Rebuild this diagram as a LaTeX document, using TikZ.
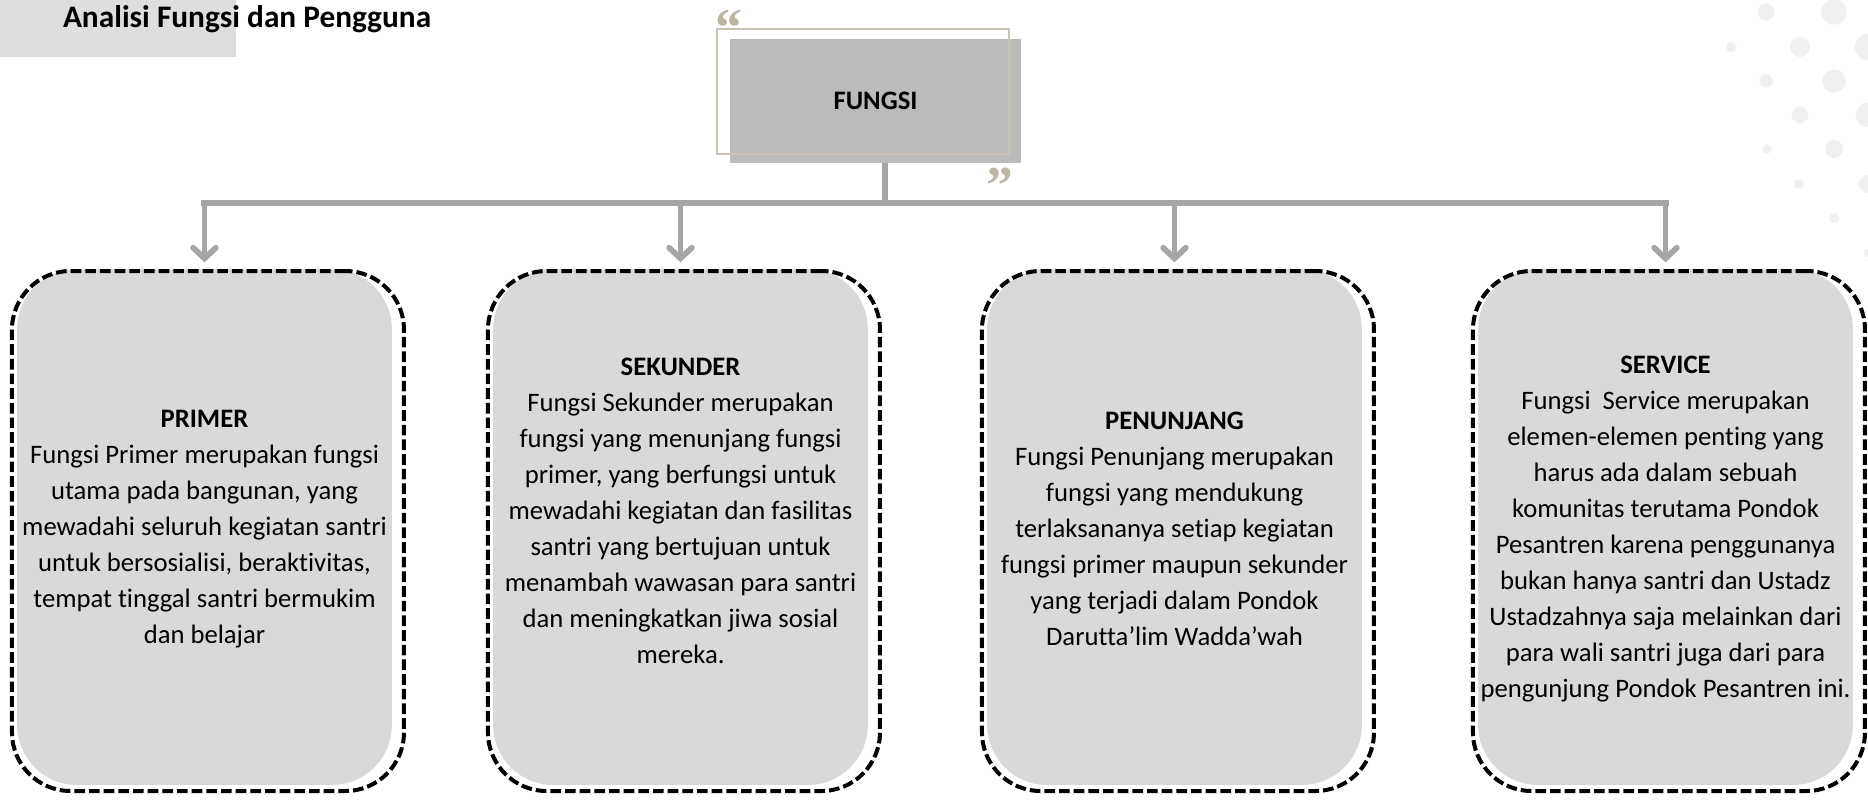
\documentclass[tikz,border=0pt]{standalone}
\usepackage{fontspec}
\setmainfont{Carlito}[Ligatures=NoCommon]
\newfontfamily\quotefont{Liberation Serif}
\usetikzlibrary{arrows.meta}

\definecolor{linegray}{HTML}{A6A6A6}
\definecolor{boxgray}{HTML}{BBBBBB}
\definecolor{cardgray}{HTML}{D9D9D9}
\definecolor{titlegray}{HTML}{DEDEDE}
\definecolor{framebeige}{HTML}{CAC2B2}
\definecolor{quotebeige}{HTML}{BDB5A3}
\definecolor{dotgray}{HTML}{F0F0F0}

\begin{document}
\begin{tikzpicture}[
  x=0.75pt, y=-0.75pt, % 1 unit = 1 px of the slide
  every node/.style={inner sep=0pt, outer sep=0pt},
  card/.style={fill=cardgray, rounded corners=45pt, minimum width=281pt, minimum height=387pt},
  cardline/.style={draw=black, line width=3pt, dash pattern=on 8pt off 3pt, rounded corners=44pt, minimum width=294pt, minimum height=390pt},
  cardtext/.style={align=center, font=\fontsize{20}{27}\selectfont},
  bus/.style={draw=linegray, line width=5pt, line cap=rect},
  link/.style={draw=linegray, line width=4.3pt, -{Straight Barb[length=8pt,width=17pt,line cap=round]}, shorten >=5pt},
  quote/.style={anchor=north, text=quotebeige, font=\quotefont\fontsize{40}{40}\bfseries},
  ]
\useasboundingbox (0,0) rectangle (1868,804);

% dots in the corner
\foreach \x/\y/\r in {1766/12/8.3, 1834/12/12.7, 1731/47/5.3, 1800/47/10, 1868/47/13.3,
    1766/81/6.7, 1834/81/11.7, 1800/115/8.3, 1868/115/12.3, 1767/149/4.7, 1834/149/9,
    1799/184/4.7, 1868/184/9, 1834/218/5, 1868/253/4}
  \fill[dotgray] (\x,\y) circle[radius=\r];

% title
\fill[titlegray] (0,0) rectangle (236,57);
\node[anchor=base west, font=\fontsize{23.5}{28}\bfseries] (title) at (63,27) {Analisi Fungsi dan Pengguna};

% Root node
\node[fill=boxgray, minimum width=218pt, minimum height=93pt, font=\fontsize{20}{24}\bfseries] (fungsi) at (875.5,101) {FUNGSI};
\node[draw=framebeige, line width=1.5pt, minimum width=219pt, minimum height=93.75pt] (frame) at (863,91.5) {};
\node[quote] (open) at (729,10) {“};
\node[quote] (close) at (1000,168) {”};

% cards
\node[card] (primer) at (204.5,527) {};
\node[card] (sekunder) at (680.5,527) {};
\node[card] (penunjang) at (1174.5,527) {};
\node[card] (service) at (1665.5,527) {};
\foreach \n in {primer,sekunder,penunjang,service}
  \node[cardline] (\n-line) at ([xshift=2.6pt,yshift=-3pt]\n.center) {};

\node[cardtext] (primer-txt) at ([yshift=-1.5pt]primer.center) {\textbf{PRIMER}\\
  Fungsi Primer merupakan fungsi\\
  utama pada bangunan, yang\\
  mewadahi seluruh kegiatan santri\\
  untuk bersosialisi, beraktivitas,\\
  tempat tinggal santri bermukim\\
  dan belajar};
\node[cardtext] (sekunder-txt) at ([yshift=12pt]sekunder.center) {\textbf{SEKUNDER}\\
  Fungsi Sekunder merupakan\\
  fungsi yang menunjang fungsi\\
  primer, yang berfungsi untuk\\
  mewadahi kegiatan dan fasilitas\\
  santri yang bertujuan untuk\\
  menambah wawasan para santri\\
  dan meningkatkan jiwa sosial\\
  mereka.};
\node[cardtext] (penunjang-txt) at ([yshift=-1.5pt]penunjang.center) {\textbf{PENUNJANG}\\
  Fungsi Penunjang merupakan\\
  fungsi yang mendukung\\
  terlaksananya setiap kegiatan\\
  fungsi primer maupun sekunder\\
  yang terjadi dalam Pondok\\
  Darutta’lim Wadda’wah};
\node[cardtext] (service-txt) at ([yshift=-1.5pt]service.center) {\textbf{SERVICE}\\
  Fungsi~ Service merupakan\\
  elemen-elemen penting yang\\
  harus ada dalam sebuah\\
  komunitas terutama Pondok\\
  Pesantren karena penggunanya\\
  bukan hanya santri dan Ustadz\\
  Ustadzahnya saja melainkan dari\\
  para wali santri juga dari para\\
  pengunjung Pondok Pesantren ini.};

% connectors
\coordinate (bus) at (885,203);
\draw[bus, line width=4pt, line cap=butt] (bus |- fungsi.south) -- (bus);
\draw[bus] (primer.north |- bus) -- (service.north |- bus);
\foreach \n in {primer,sekunder,penunjang,service}
  \draw[link] (\n.north |- bus) -- (\n.north);

\end{tikzpicture}
\end{document}
